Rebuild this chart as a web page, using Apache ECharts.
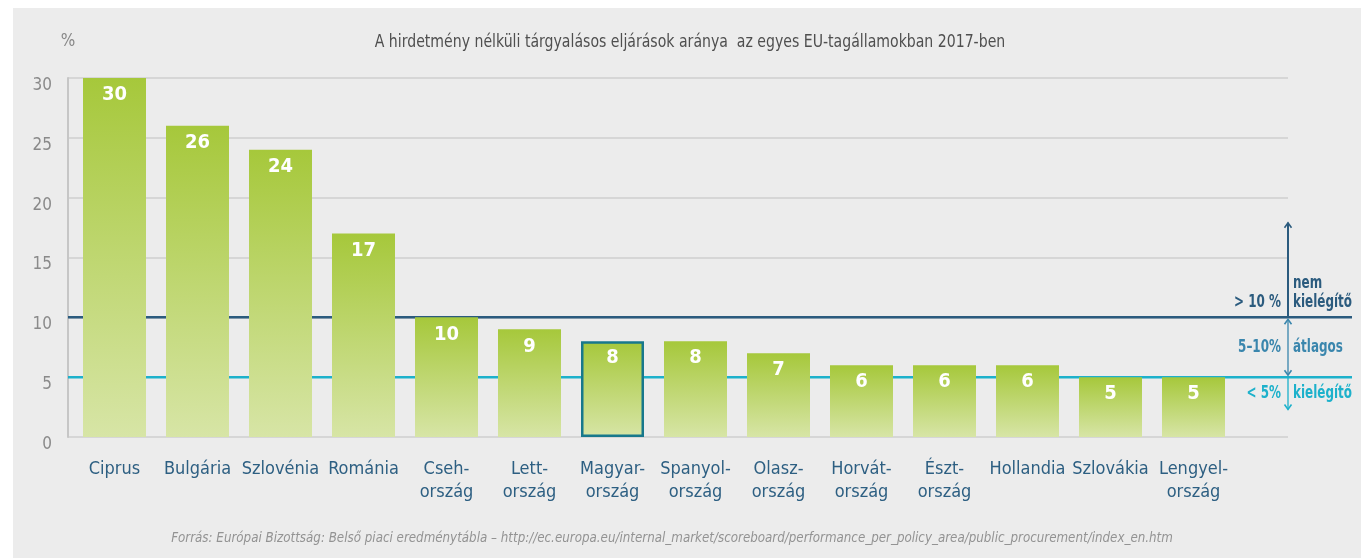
<!DOCTYPE html>
<html><head><meta charset="utf-8">
<script src="https://cdn.jsdelivr.net/npm/echarts@6/dist/echarts.min.js"></script>
<style>
html,body{margin:0;padding:0;background:#fff;}
#panel{position:absolute;left:13px;top:8px;right:0;bottom:0;background:#ececec;}
#c{position:absolute;left:0;top:0;width:1361px;height:558px;}
</style></head><body>
<div id="panel"></div>
<div id="c"></div>
<script>
const categories = ['Ciprus','Bulgária','Szlovénia','Románia','Cseh-\nország','Lett-\nország','Magyar-\nország','Spanyol-\nország','Olasz-\nország','Horvát-\nország','Észt-\nország','Hollandia','Szlovákia','Lengyel-\nország'];
const values = [30,26,24,17,10,9,8,8,7,6,6,6,5,5];
const highlighted = 'Magyar-\nország';
const yTicks = {min:0, max:30, interval:5};
const thresholds = {high:10, low:5};
const titleText = 'A hirdetmény nélküli tárgyalásos eljárások aránya  az egyes EU-tagállamokban 2017-ben';
const sourceText = 'Forrás: Európai Bizottság: Belső piaci eredménytábla – http://ec.europa.eu/internal_market/scoreboard/performance_per_policy_area/public_procurement/index_en.htm';

const FONT = '"DejaVu Sans Condensed","Liberation Sans Narrow","Noto Sans",sans-serif';
const NAVY = '#2b5b7e', MID = '#3a86ad', CYAN = '#1db1cb';

const chart = echarts.init(document.getElementById('c'), null, {renderer:'canvas'});
const grad = new echarts.graphic.LinearGradient(0,0,0,1,[{offset:0,color:'#a6c83b'},{offset:1,color:'#d7e5a6'}]);

const option = {
  backgroundColor:'transparent',
  animation:false,
  grid:[
    {left:68,top:78,width:1220,height:359},
    {left:73,top:78,width:1162,height:359}
  ],
  xAxis:[
    {gridIndex:0,type:'value',min:0,max:1,show:false},
    {gridIndex:1,type:'category',data:categories,
      axisLine:{show:false},axisTick:{show:false},
      axisLabel:{interval:0,margin:21,fontFamily:FONT,fontSize:18,lineHeight:23,color:'#2d5f82'}}
  ],
  yAxis:[
    {gridIndex:0,type:'value',min:yTicks.min,max:yTicks.max,interval:yTicks.interval,
      name:'%',nameLocation:'end',nameGap:28,nameTextStyle:{fontFamily:FONT,fontSize:17,color:'#888',align:'center'},
      axisLine:{show:true,lineStyle:{color:'#c6c6c6',width:2}},axisTick:{show:false},
      axisLabel:{margin:16,formatter:'{v|{value}}',rich:{v:{fontFamily:FONT,fontSize:17,color:'#8a8a8a',padding:[15,0,0,0]}}},
      splitLine:{show:true,lineStyle:{color:'#cfcfcf',width:1.5}}},
    {gridIndex:1,type:'value',min:yTicks.min,max:yTicks.max,interval:yTicks.interval,show:false,splitLine:{show:false}}
  ],
  series:[{
    type:'bar',xAxisIndex:1,yAxisIndex:1,barWidth:63,z:3,
    data:values.map((v,i)=>({value:v,itemStyle:categories[i]===highlighted?{color:grad,borderColor:'#17788c',borderWidth:2.5}:{color:grad}})),
    label:{show:true,position:'insideTop',distance:7,fontFamily:FONT,fontSize:20,fontWeight:'bold',color:'#fff'}
  }]
};
chart.setOption(option);

const yPix = v => chart.convertToPixel({gridIndex:0},[0,v])[1];
const yHi = yPix(thresholds.high), yLo = yPix(thresholds.low);
const ax = 1288, x0 = 68, x1 = 1352;
const yTop = yPix(17.9), yBot = yPix(2.3);
const SX = 0.76;
function lbl(text,x,y,color,align,va){
  return {type:'text',z:5,x:x,y:y,scaleX:SX,style:{text:text,fill:color,align:align,verticalAlign:va,fontFamily:FONT,fontSize:17.5,fontWeight:'bold',lineHeight:19}};
}
function chevron(x,y,dir,color){
  return {type:'polyline',z:5,shape:{points:[[x-3.5,y+dir*5],[x,y],[x+3.5,y+dir*5]]},style:{stroke:color,lineWidth:1.6,fill:null}};
}
chart.setOption({graphic:[
  {type:'line',z:1,shape:{x1:x0,y1:yHi,x2:x1,y2:yHi},style:{stroke:NAVY,lineWidth:2.5}},
  {type:'line',z:1,shape:{x1:x0,y1:yLo,x2:x1,y2:yLo},style:{stroke:CYAN,lineWidth:2.5}},
  {type:'line',z:5,shape:{x1:ax,y1:yHi,x2:ax,y2:yTop},style:{stroke:NAVY,lineWidth:2}},
  chevron(ax,yTop,1,NAVY),
  {type:'line',z:5,shape:{x1:ax,y1:yHi+2,x2:ax,y2:yLo-2},style:{stroke:MID,lineWidth:1.3}},
  chevron(ax,yHi+2,1,MID), chevron(ax,yLo-2,-1,MID),
  {type:'line',z:5,shape:{x1:ax,y1:yLo,x2:ax,y2:yBot},style:{stroke:CYAN,lineWidth:1.3}},
  chevron(ax,yBot,-1,CYAN),
  lbl('nem\nkielégítő',ax+5,yHi-5,NAVY,'left','bottom'),
  lbl('> 10 %',ax-7,yHi-5,NAVY,'right','bottom'),
  lbl('átlagos',ax+5,(yHi+yLo)/2,MID,'left','middle'),
  lbl('5–10%',ax-7,(yHi+yLo)/2,MID,'right','middle'),
  lbl('kielégítő',ax+5,yLo+16,CYAN,'left','middle'),
  lbl('< 5%',ax-7,yLo+16,CYAN,'right','middle'),
  {type:'text',z:5,x:690,y:42,scaleX:0.87,style:{text:titleText,fontFamily:FONT,fontSize:18,fill:'#4f4f4f',align:'center',verticalAlign:'middle'}},
  {type:'text',z:5,x:672,y:538,scaleX:0.945,style:{text:sourceText,fontFamily:FONT,fontSize:14,fontStyle:'italic',fill:'#939393',align:'center',verticalAlign:'middle'}}
]});
</script>
</body></html>
